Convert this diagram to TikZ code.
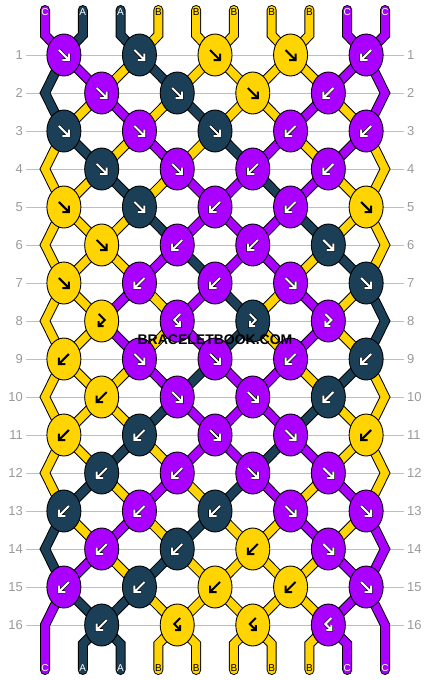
\documentclass[tikz,border=0pt]{standalone}
\usepackage{fontspec}
\setmainfont{Liberation Sans}
\usepackage{pdfrender}
\usetikzlibrary{shapes.geometric}

\definecolor{knotC}{HTML}{AA00FF}
\definecolor{knotA}{HTML}{1B3F56}
\definecolor{knotB}{HTML}{FFD400}
\definecolor{rowgray}{HTML}{BFBFBF}
\definecolor{numgray}{HTML}{9A9A9A}
\definecolor{wmgray}{HTML}{3A3A3A}
\definecolor{wmhalo}{HTML}{EDE6F2}
\colorlet{tagC}{white}
\colorlet{tagA}{white}
\colorlet{tagB}{black}

\begin{document}
\begin{tikzpicture}[x=1pt, y=-1pt]
	\tikzset{
		knot/.style={ellipse, draw=black, line width=0.9pt, minimum width=34pt, minimum height=42pt, inner sep=0pt},
		strand/.style={draw=black, line width=1pt, double distance=8pt, line cap=round, line join=miter},
		rowline/.style={draw=rowgray, line width=1pt},
		rownum/.style={text=numgray, font=\fontsize{13}{13}\selectfont, inner sep=3pt},
		tag/.style={font=\fontsize{10}{10}\selectfont, inner sep=0pt},
		wmark/.style={font=\bfseries\fontsize{14}{14}\selectfont, inner sep=0pt},
		ink/.style={line width=0.6pt, double distance=2pt, line cap=butt, line join=miter},
		arrowC/.style={draw=black, double=white},
		arrowA/.style={draw=black, double=white},
		arrowB/.style={draw=knotB, double=black},
		pics/kfwd/.style={code={\draw[ink, #1] (-5,-5) -- (5,5) (5,-1.5) -- (5,5) -- (-1.5,5);}},
		pics/kbwd/.style={code={\draw[ink, #1] (5,-5) -- (-5,5) (-5,-1.5) -- (-5,5) -- (1.5,5);}},
		pics/kfb/.style={code={\draw[ink, #1] (-3,-7) -- (3,-1) -- (-3,5) (-3,0) -- (-3,5) -- (2,5);}},
		pics/kbf/.style={code={\draw[ink, #1] (3,-7) -- (-3,-1) -- (3,5) (3,0) -- (3,5) -- (-2,5);}},
	}

	\fill[white] (0,0) rectangle (430,680);
	\useasboundingbox (0,0) rectangle (430,680);

	\foreach \r in {1,...,16} {
		\node[rownum, anchor=east] (ln-\r) at (26, {55+(\r-1)*38}) {\r};
		\node[rownum, anchor=west] (rn-\r) at (404, {55+(\r-1)*38}) {\r};
		\draw[rowline] (ln-\r) -- (rn-\r);
	}

	\foreach \r in {1,...,16} {
		\foreach \p in {1,...,10} {
			\ifodd\r\relax
				\pgfmathsetmacro\kx{45+(2*ceil(\p/2)-1.5)*37.78}
			\else
				\pgfmathsetmacro\kx{45+(2*floor(\p/2)-0.5)*37.78}
				\ifnum\p=1\relax \def\kx{45}\fi
				\ifnum\p=10\relax \def\kx{385}\fi
			\fi
			\coordinate (w-\r-\p) at (\kx, {55+(\r-1)*38});
		}
	}

	\foreach \p in {1,...,10} {
		\coordinate (top-\p) at ({45+(\p-1)*37.78}, 10);
		\coordinate (in-\p) at ({45+(\p-1)*37.78}, 35);
		\coordinate (out-\p) at ({45+(\p-1)*37.78}, 644);
		\coordinate (bot-\p) at ({45+(\p-1)*37.78}, 670);
	}

	\foreach \col/\first/\route/\last in {
		C/1/{1,2,3,4,5,6,7,8,8,7,6,5,4,3,2,1}/1,
		A/2/{2,1,1,2,3,4,5,6,6,5,4,3,2,1,1,2}/3,
		A/3/{3,4,5,6,7,8,9,10,10,9,8,7,6,5,4,3}/2,
		B/4/{4,3,2,1,1,2,3,4,4,3,2,1,1,2,3,4}/4,
		B/5/{5,6,7,8,9,10,10,9,9,10,10,9,8,7,6,5}/5,
		B/6/{6,5,4,3,2,1,1,2,2,1,1,2,3,4,5,6}/6,
		B/7/{7,8,9,10,10,9,8,7,7,8,9,10,10,9,8,7}/7,
		B/8/{8,7,6,5,4,3,2,1,1,2,3,4,5,6,7,8}/8,
		C/9/{9,10,10,9,8,7,6,5,5,6,7,8,9,10,10,9}/9,
		C/10/{10,9,8,7,6,5,4,3,3,4,5,6,7,8,9,10}/10%
	} {
		\draw[strand, double=knot\col] (top-\first) -- (in-\first)
			\foreach \p [count=\r] in \route { -- (w-\r-\p) }
			-- (out-\last) -- (bot-\last);
	}

	\foreach \l [count=\p] in {C,A,A,B,B,B,B,B,C,C} {
		\node[tag, text=tag\l] (tt-\p) at (top-\p) [yshift=-2pt] {\l};
		\node[tag, text=tag\l] (bt-\p) at (bot-\p) [yshift=2pt] {\l};
	}

	\foreach \r/\row in {
		1/{C/fwd,A/fwd,B/fwd,B/fwd,C/bwd},
		2/{C/fwd,A/fwd,B/fwd,C/bwd},
		3/{A/fwd,C/fwd,A/fwd,C/bwd,C/bwd},
		4/{A/fwd,C/fwd,C/bwd,C/bwd},
		5/{B/fwd,A/fwd,C/bwd,C/bwd,B/fwd},
		6/{B/fwd,C/bwd,C/bwd,A/fwd},
		7/{B/fwd,C/bwd,C/bwd,C/fwd,A/fwd},
		8/{B/fb,C/bf,A/fb,C/fb},
		9/{B/bwd,C/fwd,C/fwd,C/bwd,A/bwd},
		10/{B/bwd,C/fwd,C/fwd,A/bwd},
		11/{B/bwd,A/bwd,C/fwd,C/fwd,B/bwd},
		12/{A/bwd,C/bwd,C/fwd,C/fwd},
		13/{A/bwd,C/bwd,A/bwd,C/fwd,C/fwd},
		14/{C/bwd,A/bwd,B/bwd,C/fwd},
		15/{C/bwd,A/bwd,B/bwd,B/bwd,C/fwd},
		16/{A/bwd,B/bf,B/bf,C/bf}%
	} {
		\foreach \kc/\kt [count=\i] in \row {
			\pgfmathtruncatemacro\kp{2*\i}
			\node[knot, fill=knot\kc] (k-\r-\i) at (w-\r-\kp) {};
			\pic at (k-\r-\i) {k\kt=arrow\kc};
		}
	}

	\node[wmark] (wm) at (215,340) {\textpdfrender{TextRenderingMode=FillStroke, LineWidth=1.1, StrokeColor=wmhalo, FillColor=wmgray}{BRACELETBOOK.COM}};
\end{tikzpicture}
\end{document}
